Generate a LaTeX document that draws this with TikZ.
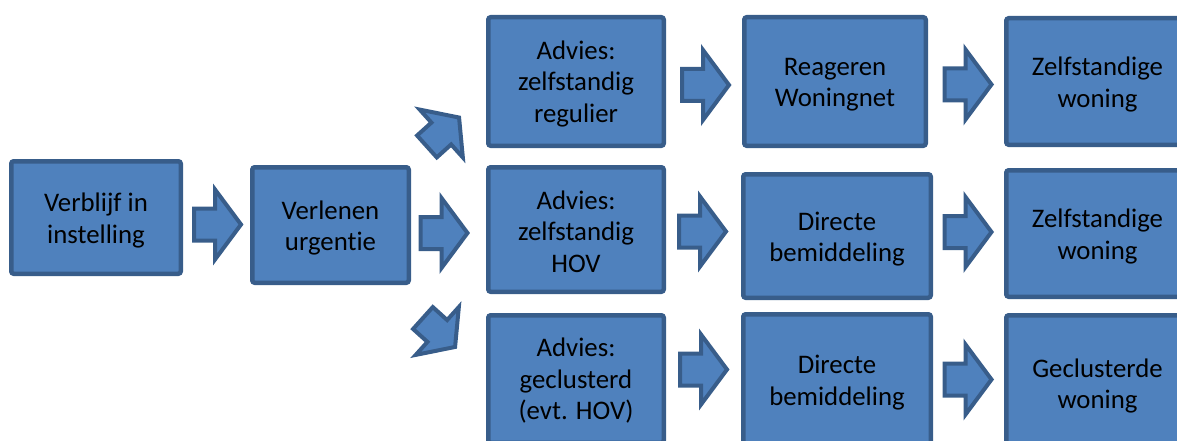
\documentclass[tikz,border=0pt]{standalone}
\usepackage{fontspec}
\setmainfont{Carlito}[Ligatures=NoCommon]
\definecolor{boxfill}{HTML}{4F81BD}
\definecolor{boxline}{HTML}{385D8A}
\begin{document}
\begin{tikzpicture}[x=1pt,y=-1pt,
  box/.style={draw=boxline, fill=boxfill, line width=4.5pt, rounded corners=2.5pt, inner sep=0pt},
  boxtext/.style={align=center, font=\fontsize{26.8}{31.5}\selectfont, text=black, inner sep=0pt},
  barrow/.pic={\path[draw=boxline, fill=boxfill, line width=4pt, line join=miter]
    (-23.5,-16) -- (-2.5,-16) -- (-2.5,-35) -- (23.5,0) -- (-2.5,35) -- (-2.5,16) -- (-23.5,16) -- cycle;}]
\useasboundingbox (0,0) rectangle (1177,441);
\clip (0,0) rectangle (1177,441);
% boxes
\node[box, minimum width=169.5pt, minimum height=112.5pt] (b1) at (96,217.5) {};
\node[box, minimum width=156.5pt, minimum height=115.5pt] (b2) at (330.5,225) {};
\node[box, minimum width=175.5pt, minimum height=128.5pt] (c3a) at (576,81.5) {};
\node[box, minimum width=175.5pt, minimum height=124.5pt] (c3b) at (576,229.5) {};
\node[box, minimum width=175.5pt, minimum height=127.5pt] (c3c) at (576,379) {};
\node[box, minimum width=181.5pt, minimum height=128.5pt] (c4a) at (835,81.5) {};
\node[box, minimum width=187.5pt, minimum height=123.5pt] (c4b) at (837,236) {};
\node[box, minimum width=187.5pt, minimum height=130.5pt] (c4c) at (837,379.5) {};
\node[box, minimum width=182.5pt, minimum height=126.5pt] (c5a) at (1097.5,81.5) {};
\node[box, minimum width=182.5pt, minimum height=126.5pt] (c5b) at (1097.5,233.5) {};
\node[box, minimum width=182.5pt, minimum height=135.5pt] (c5c) at (1097.5,383) {};
% texts
\node[boxtext] (t1) at ([yshift=-3pt]b1.center) {Verblijf in\\instelling};
\node[boxtext] (t2) at ([yshift=-3pt]b2.center) {Verlenen\\urgentie};
\node[boxtext] (t3a) at ([yshift=-2pt]c3a.center) {Advies:\\zelfstandig\\regulier};
\node[boxtext] (t3b) at ([yshift=-2pt]c3b.center) {Advies:\\zelfstandig\\HOV};
\node[boxtext] (t3c) at ([yshift=-2pt]c3c.center) {Advies:\\geclusterd\\(evt. HOV)};
\node[boxtext] (t4a) at ([yshift=-3pt]c4a.center) {Reageren\\Woningnet};
\node[boxtext] (t4b) at ([yshift=-3pt]c4b.center) {Directe\\bemiddeling};
\node[boxtext] (t4c) at ([yshift=-3pt]c4c.center) {Directe\\bemiddeling};
\node[boxtext] (t5a) at ([yshift=-3pt]c5a.center) {Zelfstandige\\woning};
\node[boxtext] (t5b) at ([yshift=-3pt]c5b.center) {Zelfstandige\\woning};
\node[boxtext] (t5c) at ([yshift=-3pt]c5c.center) {Geclusterde\\woning};
% block arrows
\pic (a1) at (217.5,224.5) {barrow};
\pic (a2) at (444,233) {barrow};
\pic[rotate=42, scale=0.92] (a3) at (443,132) {barrow};
\pic[rotate=-42, scale=0.92] (a4) at (439,332.5) {barrow};
\pic (a5) at (705.5,85) {barrow};
\pic (a6) at (702.5,231.5) {barrow};
\pic (a7) at (703.5,369.5) {barrow};
\pic (a8) at (968,84.5) {barrow};
\pic (a9) at (968,232) {barrow};
\pic (a10) at (968,379.5) {barrow};
\end{tikzpicture}
\end{document}
